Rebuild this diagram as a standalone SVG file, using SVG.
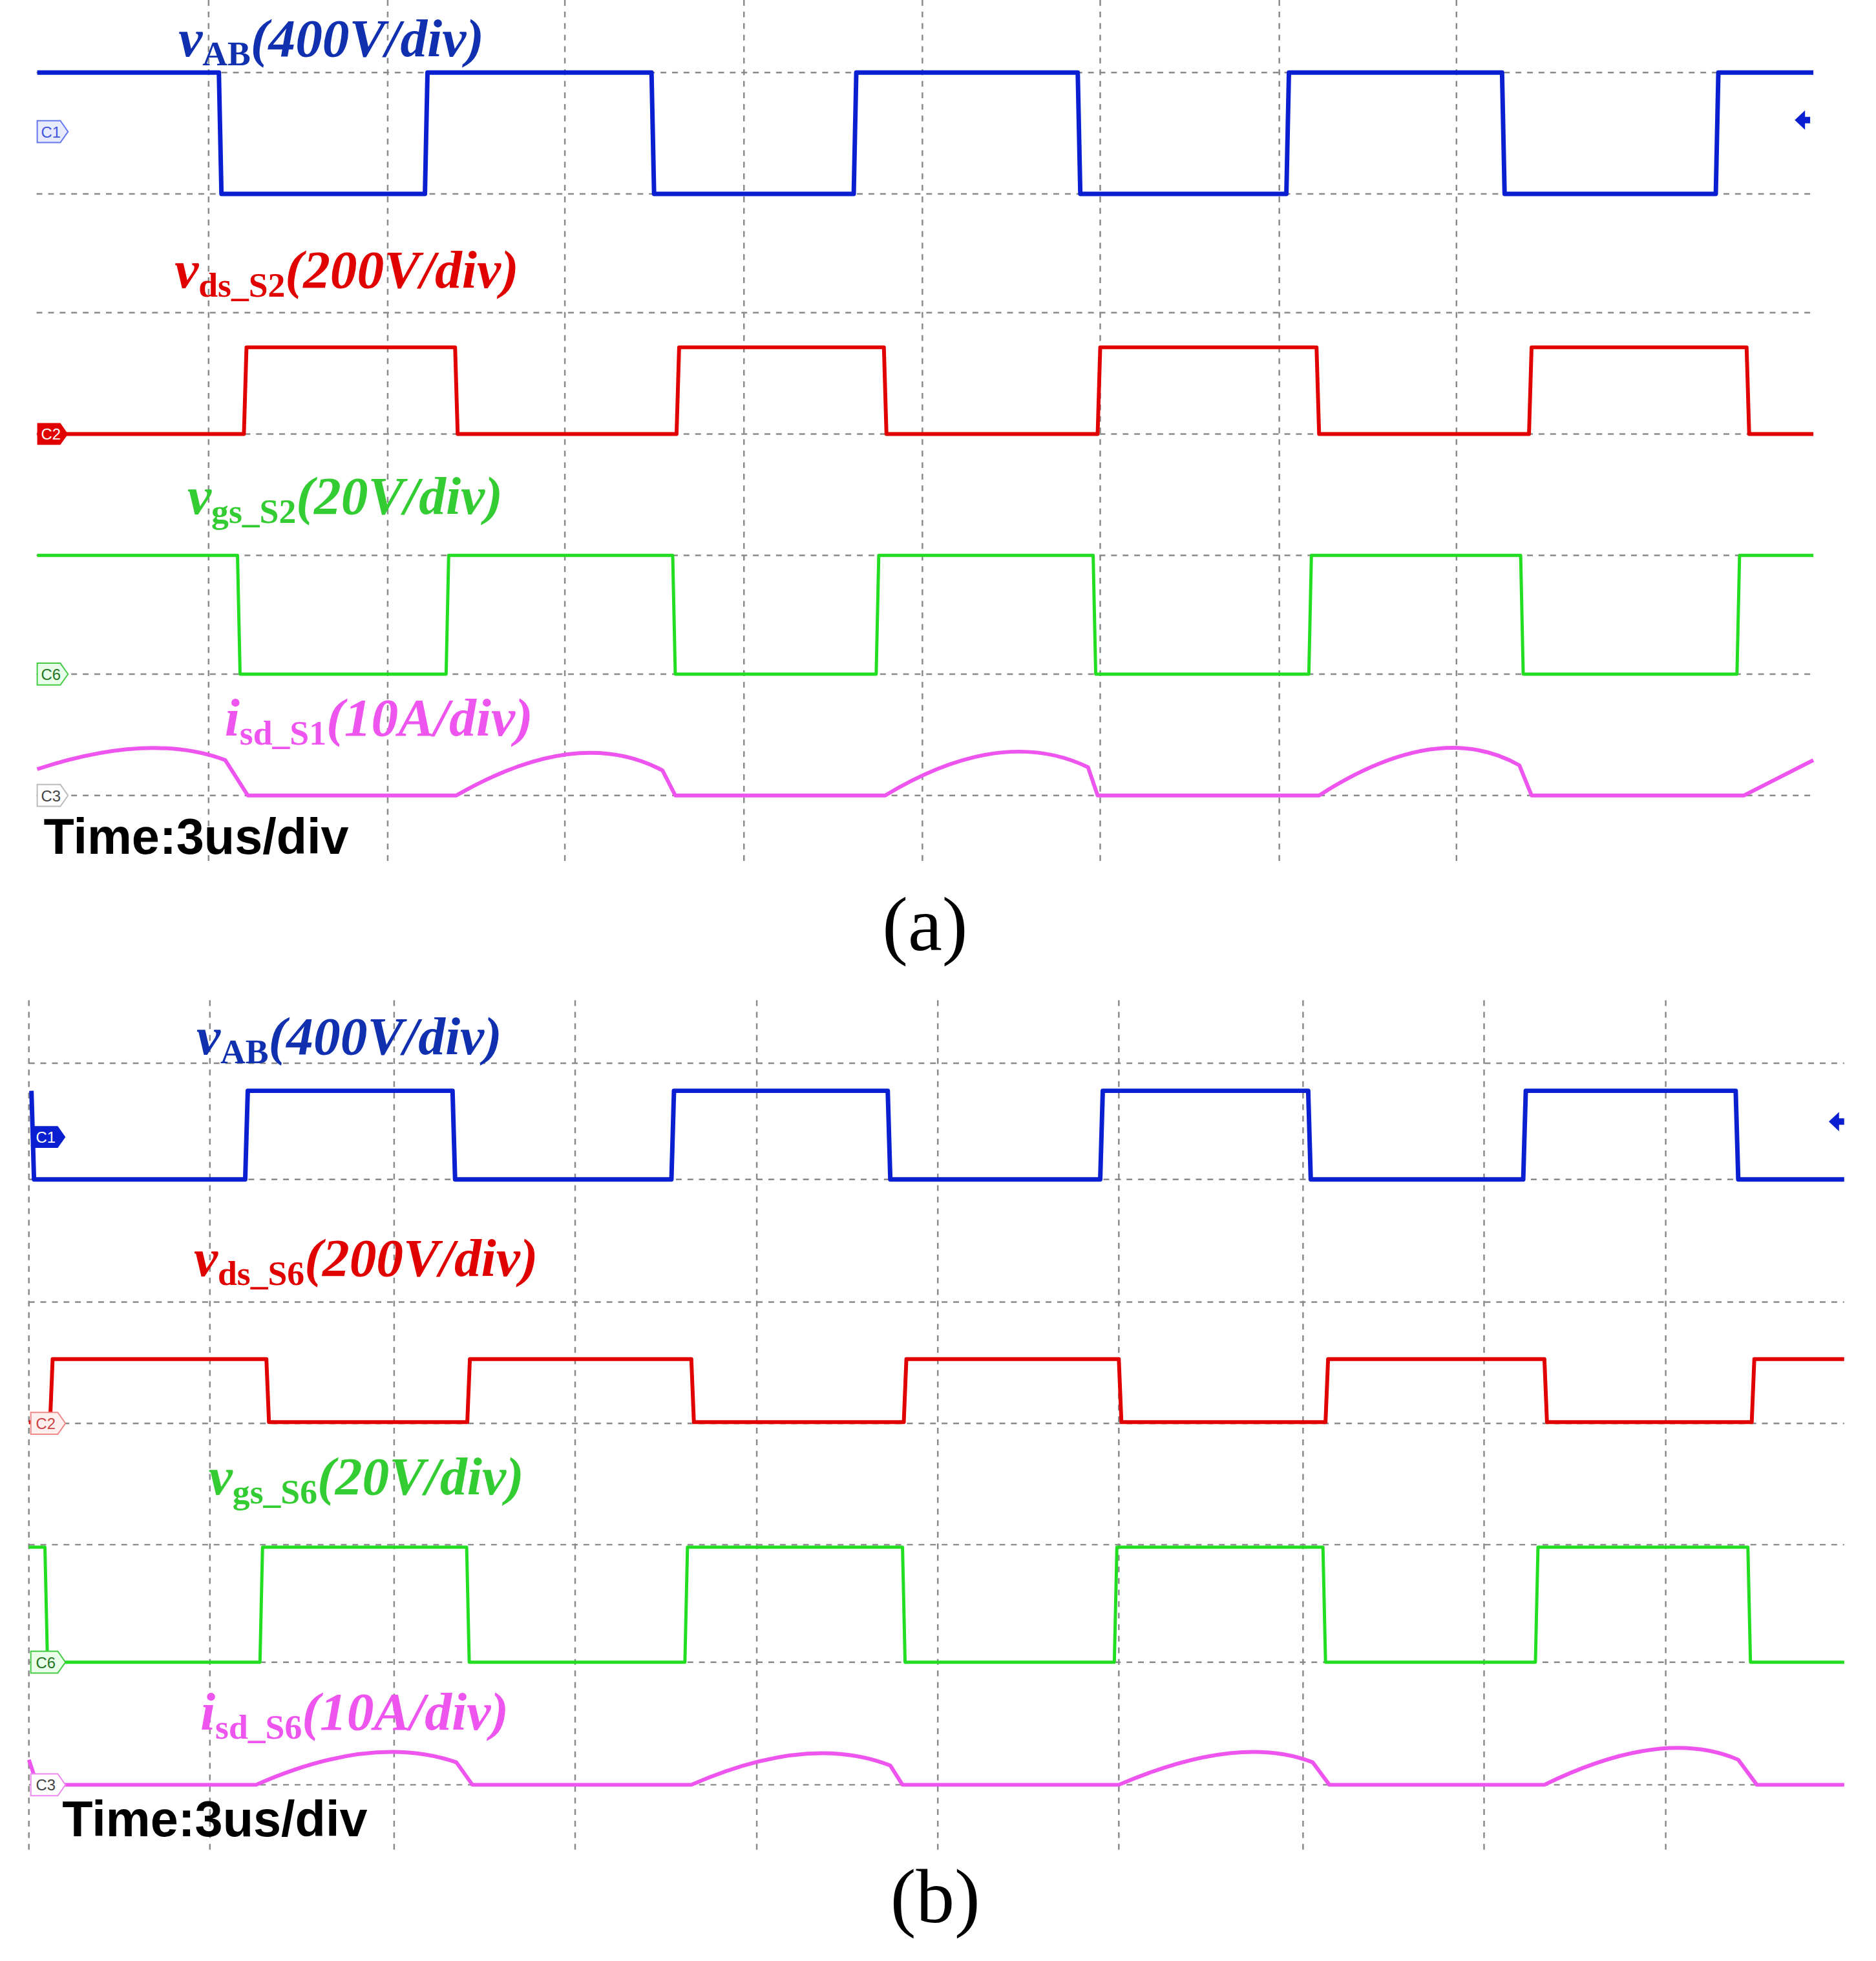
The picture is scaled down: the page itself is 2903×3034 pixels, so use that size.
<svg xmlns="http://www.w3.org/2000/svg" width="2903" height="3034" viewBox="0 0 2903 3034">
<style>
.g{stroke:#8a8a8a;stroke-width:2.5;stroke-dasharray:9 9;fill:none}
.t{fill:none;stroke-linejoin:round}
.b{stroke:#0a1fd0;stroke-width:7}
.r{stroke:#e00000;stroke-width:6}
.gr{stroke:#22dd22;stroke-width:5}
.m{stroke:#ee55ee;stroke-width:6}
.lab{font-family:"Liberation Serif",serif;font-weight:bold;font-style:italic;font-size:84px}
.sub{font-style:normal;font-size:54px}
.time{font-family:"Liberation Sans",sans-serif;font-weight:bold;font-size:78px;fill:#000}
.cap{font-family:"Liberation Serif",serif;font-size:120px;fill:#000}
.mk{font-family:"Liberation Sans",sans-serif;font-size:24px}
</style>
<rect width="2903" height="3034" fill="#fff"/>
<g transform="scale(0.9933)">
<g id="grid-a">
<path class="g" d="M325 0V1348M604 0V1348M880 0V1348M1159 0V1348M1437 0V1348M1714 0V1348M1993 0V1348M2269 0V1348"/>
<path class="g" d="M57 113H2825M57 302H2825M57 487H2825M57 676H2825M57 865H2825M57 1050H2825M57 1239H2825"/>
</g>
<g id="traces-a">
<path class="t b" d="M58 113 H341 L345 302 H662 L666 113 H1015 L1019 302 H1330 L1334 113 H1679 L1683 302 H2004 L2008 113 H2340 L2344 302 H2673 L2677 113 H2825"/>
<path class="t r" d="M58 676 H380 L384 541 H709 L713 676 H1054 L1058 541 H1377 L1381 676 H1710 L1714 541 H2051 L2055 676 H2382 L2386 541 H2721 L2725 676 H2825"/>
<path class="t gr" d="M58 865 H370 L374 1050 H695 L699 865 H1048 L1052 1050 H1365 L1369 865 H1703 L1707 1050 H2039 L2043 865 H2369 L2373 1050 H2706 L2710 865 H2825"/>
<path class="t m" d="M58 1198 Q234 1140 351 1184 L386 1239 H711 Q900 1130 1032 1200 L1052 1239 H1379 Q1560 1130 1695 1195 L1710 1239 H2055 Q2240 1120 2367 1192 L2386 1239 H2717 L2825 1184"/>
</g>
<g id="markers-a">
<path d="M58 188H94L106 205L94 222H58Z" fill="#e8eaff" stroke="#6677ee" stroke-width="2"/><text class="mk" x="64" y="214" fill="#4455dd">C1</text>
<path d="M58 659H94L106 676L94 693H58Z" fill="#e00000"/><text class="mk" x="64" y="685" fill="#fff">C2</text>
<path d="M58 1033H94L106 1050L94 1067H58Z" fill="#eaffea" stroke="#44cc44" stroke-width="2"/><text class="mk" x="64" y="1059" fill="#227722">C6</text>
<path d="M58 1222H94L106 1239L94 1256H58Z" fill="#fff" stroke="#bbbbbb" stroke-width="2"/><text class="mk" x="64" y="1248" fill="#444">C3</text>
<path d="M2796 187L2812 172V182H2820V192H2812V202Z" fill="#0a1fd0"/>
</g>
<g id="labels-a">
<text class="lab" x="278" y="88" fill="#1030b0">v<tspan class="sub" dy="14">AB</tspan><tspan dy="-14">(400V/div)</tspan></text>
<text class="lab" x="272" y="448" fill="#e00000">v<tspan class="sub" dy="14">ds_S2</tspan><tspan dy="-14">(200V/div)</tspan></text>
<text class="lab" x="292" y="800" fill="#33cc33">v<tspan class="sub" dy="14">gs_S2</tspan><tspan dy="-14">(20V/div)</tspan></text>
<text class="lab" x="350" y="1146" fill="#ee55ee">i<tspan class="sub" dy="14">sd_S1</tspan><tspan dy="-14">(10A/div)</tspan></text>
<text class="time" x="68" y="1330">Time:3us/div</text>
<text class="cap" x="1441" y="1480" text-anchor="middle">(a)</text>
</g>
<g id="grid-b">
<path class="g" d="M45 1558V2883M327 1558V2883M614 1558V2883M896 1558V2883M1179 1558V2883M1461 1558V2883M1743 1558V2883M2030 1558V2883M2312 1558V2883M2595 1558V2883"/>
<path class="g" d="M45 1656H2873M45 1837H2873M45 2028H2873M45 2217H2873M45 2406H2873M45 2589H2873M45 2780H2873"/>
</g>
<g id="traces-b">
<path class="t b" d="M49 1699 L53 1837 H382 L386 1699 H705 L709 1837 H1046 L1050 1699 H1383 L1387 1837 H1714 L1718 1699 H2038 L2042 1837 H2373 L2377 1699 H2704 L2708 1837 H2873"/>
<path class="t r" d="M45 2215 H78 L82 2117 H415 L419 2215 H728 L732 2117 H1077 L1081 2215 H1408 L1412 2117 H1743 L1747 2215 H2065 L2069 2117 H2406 L2410 2215 H2729 L2733 2117 H2873"/>
<path class="t gr" d="M45 2410 H70 L74 2589 H405 L409 2410 H727 L731 2589 H1067 L1071 2410 H1406 L1410 2589 H1736 L1740 2410 H2061 L2065 2589 H2392 L2396 2410 H2723 L2727 2589 H2873"/>
<path class="t m" d="M45 2741 L58 2780 H399 Q580 2700 711 2745 L736 2780 H1077 Q1260 2700 1387 2750 L1406 2780 H1743 Q1930 2700 2045 2745 L2071 2780 H2406 Q2590 2690 2708 2741 L2737 2780 H2873"/>
</g>
<g id="markers-b">
<path d="M50 1754H90L102 1771L90 1788H50Z" fill="#0a1fd0"/><text class="mk" x="56" y="1780" fill="#fff">C1</text>
<path d="M48 2200H90L102 2217L90 2234H48Z" fill="#fff0f0" stroke="#ee8888" stroke-width="2"/><text class="mk" x="56" y="2226" fill="#cc4444">C2</text>
<path d="M48 2572H90L102 2589L90 2606H48Z" fill="#eaffea" stroke="#44cc44" stroke-width="2"/><text class="mk" x="56" y="2598" fill="#227722">C6</text>
<path d="M48 2763H90L102 2780L90 2797H48Z" fill="#fff" stroke="#ee88ee" stroke-width="2"/><text class="mk" x="56" y="2789" fill="#444">C3</text>
<path d="M2849 1747L2865 1732V1742H2873V1752H2865V1762Z" fill="#0a1fd0"/>
</g>
<g id="labels-b">
<text class="lab" x="306" y="1642" fill="#1030b0">v<tspan class="sub" dy="14">AB</tspan><tspan dy="-14">(400V/div)</tspan></text>
<text class="lab" x="302" y="1987" fill="#e00000">v<tspan class="sub" dy="14">ds_S6</tspan><tspan dy="-14">(200V/div)</tspan></text>
<text class="lab" x="325" y="2328" fill="#33cc33">v<tspan class="sub" dy="14">gs_S6</tspan><tspan dy="-14">(20V/div)</tspan></text>
<text class="lab" x="312" y="2694" fill="#ee55ee">i<tspan class="sub" dy="14">sd_S6</tspan><tspan dy="-14">(10A/div)</tspan></text>
<text class="time" x="97" y="2860">Time:3us/div</text>
<text class="cap" x="1457" y="2994" text-anchor="middle">(b)</text>
</g>
</g>
</svg>
